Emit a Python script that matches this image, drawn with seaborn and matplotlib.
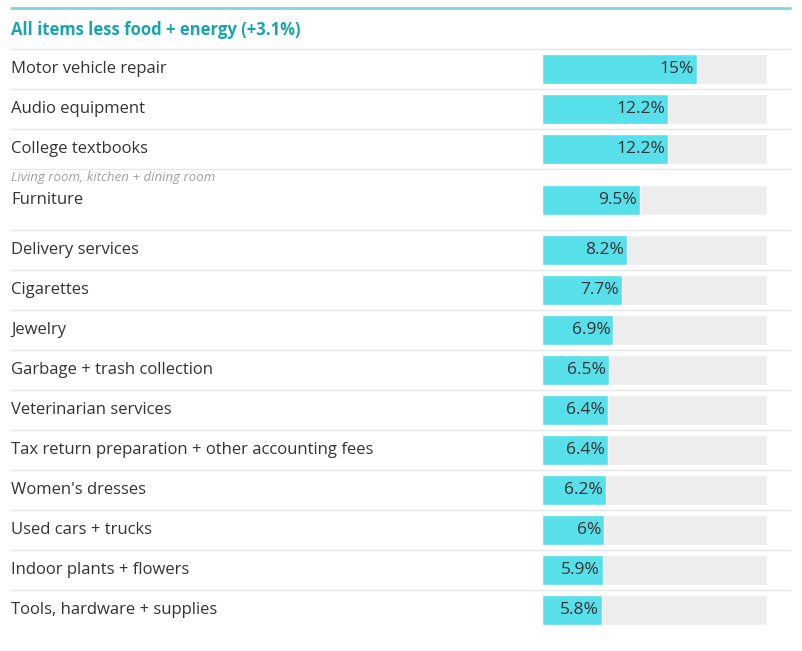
import matplotlib
matplotlib.use("Agg")
import matplotlib.pyplot as plt
import seaborn as sns
import pandas as pd
import numpy as np
from matplotlib.lines import Line2D
from matplotlib.transforms import blended_transform_factory

categories = ["Motor vehicle repair", "Audio equipment", "College textbooks", "Furniture",
              "Delivery services", "Cigarettes", "Jewelry", "Garbage + trash collection",
              "Veterinarian services", "Tax return preparation + other accounting fees",
              "Women's dresses", "Used cars + trucks", "Indoor plants + flowers",
              "Tools, hardware + supplies"]
values = [15, 12.2, 12.2, 9.5, 8.2, 7.7, 6.9, 6.5, 6.4, 6.4, 6.2, 6, 5.9, 5.8]
labels = ["15%", "12.2%", "12.2%", "9.5%", "8.2%", "7.7%", "6.9%", "6.5%", "6.4%", "6.4%",
          "6.2%", "6%", "5.9%", "5.8%"]
subtitles = {"Furniture": "Living room, kitchen + dining room"}
title = "All items less food + energy (+3.1%)"
scale_max = 21.75

sns.set_theme(style="white")
plt.rcParams['font.family'] = ['Open Sans', 'DejaVu Sans']

W, H = 803, 651
# row layout in pixels (furniture row is taller)
row_h = [61 if c in subtitles else 40 for c in categories]
tops = 49 + np.concatenate([[0], np.cumsum(row_h)[:-1]])
bottoms = tops + np.array(row_h)
centers = np.where([c in subtitles for c in categories], bottoms - 30, tops + 20)

fig = plt.figure(figsize=(W/100, H/100), dpi=100)
ax = fig.add_axes([0, 0, 1, 1])
ax.set_xlim(0, 1)
ax.set_ylim(H, 0)
ax.axis("off")
bx = fig.add_axes([542/W, 0, 225/W, 1])
df = pd.DataFrame({"cat": categories, "y": centers, "val": values, "bg": [scale_max]*len(values)})
sns.barplot(data=df, y="y", x="bg", color="#EDEDED", ax=bx, orient="h", native_scale=True,
            width=0.75, saturation=1)
sns.barplot(data=df, y="y", x="val", color="#57DFEA", ax=bx, orient="h", native_scale=True,
            width=0.75, saturation=1)
bx.set_xlim(0, scale_max)
bx.set_ylim(H, 0)
bx.axis("off")

for i, (c, v, l) in enumerate(zip(categories, values, labels)):
    y = centers[i]
    bx.text(v - 0.3, y, l, ha="right", va="center", fontsize=12.5, color="#333333")
    if c in subtitles:
        ax.text(11/W, y, c, ha="left", va="center", fontsize=12, color="#333333")
        ax.text(11/W, y - 22, subtitles[c], ha="left", va="center",
                fontsize=9.5, color="#A0A0A0", style="italic")
    else:
        ax.text(11/W, y, c, ha="left", va="center", fontsize=12, color="#333333")
    ax.add_line(Line2D([11/W, 790/W], [tops[i], tops[i]], color="#E6E6E6", lw=1))

ax.add_line(Line2D([11/W, 790/W], [8, 8], color="#7ED6DC", lw=2))
ax.text(11/W, 30, title, ha="left", va="center", fontsize=12, fontweight="bold", color="#1AA5AD")

fig.savefig("out.png", dpi=100, facecolor="white")
